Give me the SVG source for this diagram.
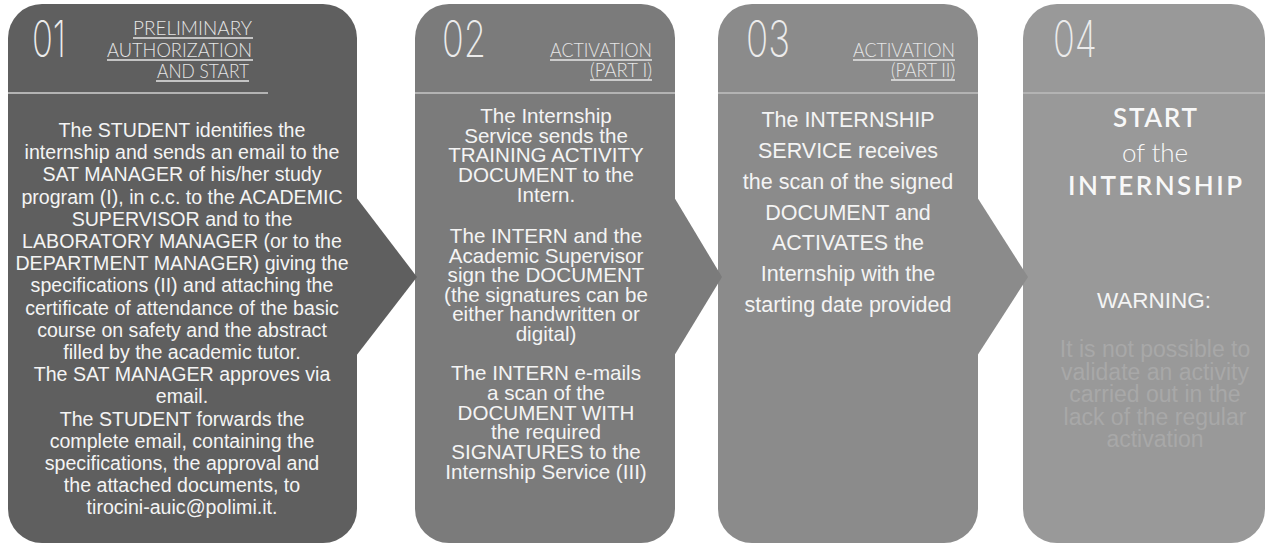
<svg xmlns="http://www.w3.org/2000/svg" width="1268" height="546" viewBox="0 0 1268 546">
<style>
.num{font-family:Inter,"Open Sans","Liberation Sans",sans-serif;font-weight:200;font-size:50px;fill:#ececec}
.hd{font-family:Lato,"Open Sans","Liberation Sans",sans-serif;font-weight:300;font-size:19px;fill:#e6e6e6;text-anchor:end}
.ul{stroke:#e6e6e6;stroke-width:1.4}
.div{stroke:#b3b3b3;stroke-width:2}
.b1{font-family:"Liberation Sans",Arial,sans-serif;font-size:19.6px;fill:#f4f4f4;text-anchor:middle}
.b2{font-family:"Liberation Sans",Arial,sans-serif;font-size:20.6px;fill:#f4f4f4;text-anchor:middle}
.b3{font-family:"Liberation Sans",Arial,sans-serif;font-size:21.5px;fill:#f4f4f4;text-anchor:middle}
.big{font-family:Lato,"Open Sans","Liberation Sans",sans-serif;font-size:26px;fill:#f8f8f8;text-anchor:middle}
.warn{font-family:"Liberation Sans",Arial,sans-serif;font-size:22.5px;fill:#f4f4f4;text-anchor:middle}
.wt{font-family:"Liberation Sans",Arial,sans-serif;font-size:23px;fill:#a8a8a8;text-anchor:middle}
</style>
<rect width="1268" height="546" fill="#ffffff"/>

<g id="step4">
<rect x="1023" y="4" width="242" height="539" rx="34" fill="#999999"/>
<line class="div" x1="1023" y1="93" x2="1265" y2="93"/>
<text class="num" x="1053" y="57" textLength="44" lengthAdjust="spacingAndGlyphs">04</text>
<text class="big" x="1155" y="127" font-weight="600" textLength="84" lengthAdjust="spacing">START</text>
<text class="big" x="1155" y="162" font-weight="300" font-size="24" fill="#e4e4e4" textLength="66" lengthAdjust="spacing">of the</text>
<text class="big" x="1155" y="195" font-weight="600" textLength="174" lengthAdjust="spacing">INTERNSHIP</text>
<text class="warn" x="1154" y="308">WARNING:</text>
<text class="wt" x="1155" y="357">It is not possible to</text>
<text class="wt" x="1155" y="379.5">validate an activity</text>
<text class="wt" x="1155" y="402">carried out in the</text>
<text class="wt" x="1155" y="424.5">lack of the regular</text>
<text class="wt" x="1155" y="447">activation</text>
</g>

<g id="step3">
<rect x="718" y="4" width="260" height="539" rx="34" fill="#8b8b8b"/>
<line class="div" x1="718" y1="93" x2="978" y2="93"/>
<text class="num" x="746" y="57" textLength="44" lengthAdjust="spacingAndGlyphs">03</text>
<text class="hd" x="955" y="57" textLength="102" lengthAdjust="spacingAndGlyphs">ACTIVATION</text>
<line class="ul" x1="853" y1="60" x2="955" y2="60"/>
<text class="hd" x="955" y="77" textLength="64" lengthAdjust="spacingAndGlyphs">(PART II)</text>
<line class="ul" x1="891" y1="80" x2="955" y2="80"/>
<text class="b3" x="848" y="127">The INTERNSHIP</text>
<text class="b3" x="848" y="158">SERVICE receives</text>
<text class="b3" x="848" y="189">the scan of the signed</text>
<text class="b3" x="848" y="220">DOCUMENT and</text>
<text class="b3" x="848" y="250">ACTIVATES the</text>
<text class="b3" x="848" y="281">Internship with the</text>
<text class="b3" x="848" y="312">starting date provided</text>
</g>

<g id="step2">
<rect x="415" y="4" width="260" height="539" rx="34" fill="#7b7b7b"/>
<line class="div" x1="415" y1="93" x2="675" y2="93"/>
<text class="num" x="442" y="57" textLength="44" lengthAdjust="spacingAndGlyphs">02</text>
<text class="hd" x="652" y="57" textLength="102" lengthAdjust="spacingAndGlyphs">ACTIVATION</text>
<line class="ul" x1="550" y1="60" x2="652" y2="60"/>
<text class="hd" x="652" y="77" textLength="62" lengthAdjust="spacingAndGlyphs">(PART I)</text>
<line class="ul" x1="590" y1="80" x2="652" y2="80"/>
<text class="b2" x="546" y="123">The Internship</text>
<text class="b2" x="546" y="143">Service sends the</text>
<text class="b2" x="546" y="162">TRAINING ACTIVITY</text>
<text class="b2" x="546" y="182">DOCUMENT to the</text>
<text class="b2" x="546" y="202">Intern.</text>
<text class="b2" x="546" y="243">The INTERN and the</text>
<text class="b2" x="546" y="263">Academic Supervisor</text>
<text class="b2" x="546" y="282">sign the DOCUMENT</text>
<text class="b2" x="546" y="302">(the signatures can be</text>
<text class="b2" x="546" y="321">either handwritten or</text>
<text class="b2" x="546" y="341">digital)</text>
<text class="b2" x="546" y="380">The INTERN e-mails</text>
<text class="b2" x="546" y="400">a scan of the</text>
<text class="b2" x="546" y="420">DOCUMENT WITH</text>
<text class="b2" x="546" y="439">the required</text>
<text class="b2" x="546" y="459">SIGNATURES to the</text>
<text class="b2" x="546" y="479">Internship Service (III)</text>
</g>

<g id="step1">
<rect x="8" y="4" width="349" height="539" rx="34" fill="#5f5f5f"/>
<line class="div" x1="8" y1="93" x2="268" y2="93"/>
<text class="num" x="32" y="57" textLength="34" lengthAdjust="spacingAndGlyphs">01</text>
<text class="hd" x="252" y="35" textLength="119" lengthAdjust="spacingAndGlyphs">PRELIMINARY</text>
<line class="ul" x1="133" y1="38" x2="253" y2="38"/>
<text class="hd" x="252" y="57" textLength="145" lengthAdjust="spacingAndGlyphs">AUTHORIZATION</text>
<line class="ul" x1="107" y1="60" x2="253" y2="60"/>
<text class="hd" x="249" y="78" textLength="92" lengthAdjust="spacingAndGlyphs">AND START</text>
<line class="ul" x1="156" y1="81" x2="249" y2="81"/>
<text class="b1" x="182" y="137">The STUDENT identifies the</text>
<text class="b1" x="182" y="159.2">internship and sends an email to the</text>
<text class="b1" x="182" y="181.4">SAT MANAGER of his/her study</text>
<text class="b1" x="182" y="203.6">program (I), in c.c. to the ACADEMIC</text>
<text class="b1" x="182" y="225.8">SUPERVISOR and to the</text>
<text class="b1" x="182" y="248">LABORATORY MANAGER (or to the</text>
<text class="b1" x="182" y="270.2">DEPARTMENT MANAGER) giving the</text>
<text class="b1" x="182" y="292.4">specifications (II) and attaching the</text>
<text class="b1" x="182" y="314.6">certificate of attendance of the basic</text>
<text class="b1" x="182" y="336.8">course on safety and the abstract</text>
<text class="b1" x="182" y="359">filled by the academic tutor.</text>
<text class="b1" x="182" y="381.2">The SAT MANAGER approves via</text>
<text class="b1" x="182" y="403.4">email.</text>
<text class="b1" x="182" y="425.6">The STUDENT forwards the</text>
<text class="b1" x="182" y="447.8">complete email, containing the</text>
<text class="b1" x="182" y="470">specifications, the approval and</text>
<text class="b1" x="182" y="492.2">the attached documents, to</text>
<text class="b1" x="182" y="514.4">tirocini-auic@polimi.it.</text>
</g>

<g id="connectors">
<polygon points="356,197 417,277 356,356" fill="#5f5f5f"/>
<polygon points="674,197 722,277 674,356" fill="#7b7b7b"/>
<polygon points="977,197 1028,277 977,356" fill="#8b8b8b"/>
</g>
</svg>
